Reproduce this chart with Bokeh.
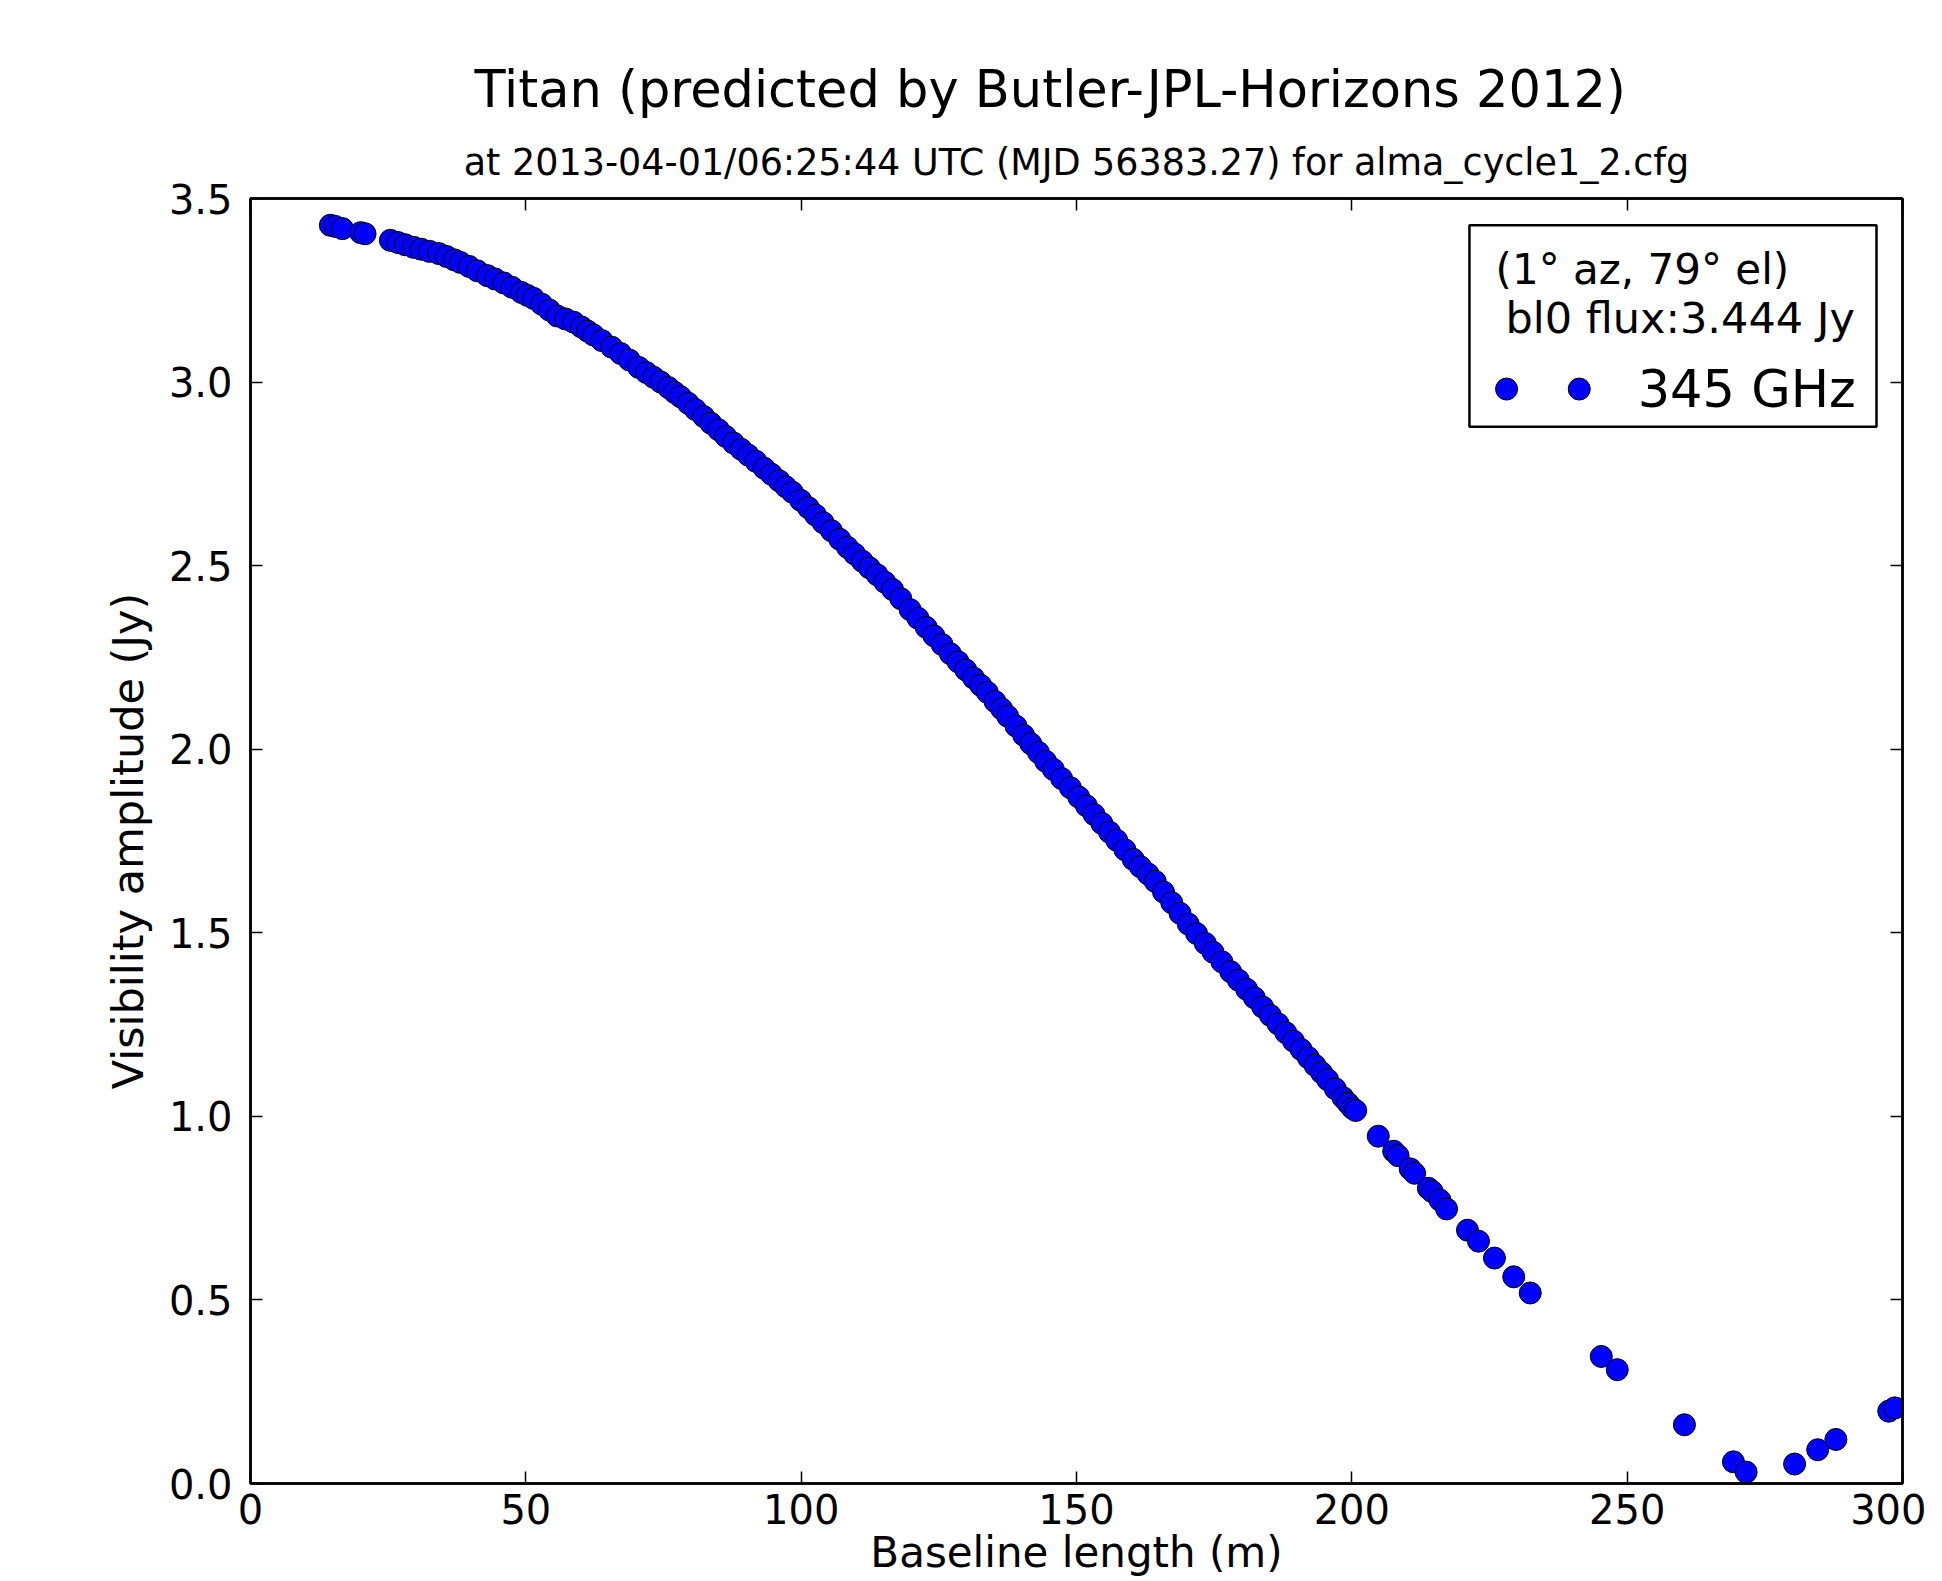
from bokeh.plotting import figure
from bokeh.models import LinearAxis, Title, Label, BoxAnnotation, FixedTicker, Range1d, PrintfTickFormatter
from bokeh.embed import file_html
from bokeh.resources import INLINE

# ---------------- data ----------------
baseline_m = [
    14.5, 15.4, 16.7, 20.0, 20.8,
    25.4, 26.8, 28.1, 29.6, 31.0, 32.5, 34.2, 35.6, 37.0, 38.1, 39.7, 41.2, 43.0, 44.4, 46.0,
    47.5, 49.2, 50.3, 51.4, 52.9, 54.3, 55.7, 57.2, 58.7, 60.1, 61.2, 62.3, 63.8, 65.6, 67.2,
    68.8, 70.5, 71.9, 73.2, 74.5, 75.9, 77.0, 78.1, 79.5, 80.8, 82.3, 83.6, 85.0, 86.3, 87.7,
    89.1, 90.4, 91.8, 93.3, 94.6, 96.0, 97.2, 98.4, 99.9, 101.3, 102.6, 104.0, 105.5, 107.0,
    108.4, 109.7, 111.1, 112.4, 113.8, 115.2, 116.6, 118.1, 119.8, 121.2, 122.7, 124.1, 125.6,
    127.1, 128.5, 129.9, 131.3, 132.6, 133.8, 135.2, 136.4, 137.5, 139.0, 140.4, 141.7, 143.1,
    144.4, 145.8, 147.3, 148.9, 150.4, 151.8, 153.2, 154.6, 156.0, 157.3, 158.8, 160.3, 161.6,
    163.0, 164.3, 165.8, 167.3, 168.8, 170.3, 171.8, 173.4, 174.8, 176.4, 178.0, 179.4, 180.9,
    182.3, 183.8, 185.2, 186.6, 188.0, 189.4, 190.8, 192.1, 193.3, 194.5, 195.6, 197.0, 198.4,
    199.3, 200.1, 200.7,
    204.8, 207.6, 208.4, 210.6, 211.4, 213.9, 214.6, 216.0, 217.2, 221.0, 223.0, 225.9, 229.4,
    232.4, 245.3, 248.2, 260.4, 269.3, 271.6, 280.4, 284.6, 287.9, 297.5, 298.6,
]
amplitude_jy = [
    3.427, 3.424, 3.418, 3.407, 3.404,
    3.386, 3.380, 3.374, 3.367, 3.362, 3.356, 3.350, 3.342, 3.333, 3.326, 3.315, 3.303, 3.290, 3.281, 3.270,
    3.258, 3.244, 3.236, 3.228, 3.212, 3.196, 3.180, 3.172, 3.163, 3.150, 3.139, 3.128, 3.113, 3.095, 3.078,
    3.060, 3.040, 3.026, 3.013, 3.000, 2.985, 2.972, 2.960, 2.942, 2.925, 2.906, 2.888, 2.870, 2.852, 2.834,
    2.817, 2.801, 2.784, 2.765, 2.749, 2.731, 2.715, 2.700, 2.678, 2.658, 2.638, 2.617, 2.595, 2.572,
    2.550, 2.532, 2.512, 2.494, 2.475, 2.455, 2.435, 2.410, 2.380, 2.357, 2.332, 2.309, 2.285,
    2.260, 2.238, 2.216, 2.194, 2.174, 2.155, 2.130, 2.110, 2.090, 2.063, 2.038, 2.015, 1.991,
    1.967, 1.945, 1.920, 1.895, 1.870, 1.846, 1.822, 1.798, 1.774, 1.752, 1.726, 1.700, 1.680,
    1.660, 1.640, 1.611, 1.582, 1.553, 1.524, 1.498, 1.471, 1.447, 1.421, 1.394, 1.371, 1.346,
    1.323, 1.298, 1.275, 1.252, 1.228, 1.205, 1.182, 1.160, 1.139, 1.119, 1.100, 1.075, 1.051,
    1.036, 1.022, 1.016,
    0.946, 0.905, 0.893, 0.857, 0.845, 0.804, 0.795, 0.772, 0.748, 0.690, 0.660, 0.614, 0.563,
    0.519, 0.346, 0.310, 0.160, 0.059, 0.031, 0.053, 0.092, 0.120, 0.197, 0.206,
]
x_ticks = [0, 50, 100, 150, 200, 250, 300]
y_ticks = [0.0, 0.5, 1.0, 1.5, 2.0, 2.5, 3.0, 3.5]
title_text = "Titan (predicted by Butler-JPL-Horizons 2012)"
subtitle_text = "at 2013-04-01/06:25:44 UTC (MJD 56383.27) for alma_cycle1_2.cfg"
x_label = "Baseline length (m)"
y_label = "Visibility amplitude (Jy)"
legend_lines = ["(1°  az, 79°  el)", "bl0 flux:3.444 Jy"]
series_label = "345 GHz"

# ---------------- style ----------------
FONT = "DejaVu Sans"
BLUE = "#0000ff"

p = figure(width=1926, height=1579,
           x_range=Range1d(0, 300), y_range=Range1d(0, 3.5),
           output_backend="svg", toolbar_location=None, title=None,
           min_border_left=250, min_border_right=24,
           min_border_top=198, min_border_bottom=93)
p.xgrid.visible = False
p.ygrid.visible = False
p.outline_line_color = "black"
p.outline_line_width = 2.5
p.background_fill_color = "white"
p.border_fill_color = "white"

p.add_layout(LinearAxis(), "right")
p.add_layout(LinearAxis(), "above")

for ax in p.xaxis + p.yaxis:
    ax.axis_line_color = "black"
    ax.axis_line_width = 2.5
    ax.major_tick_in = 12
    ax.major_tick_out = 0
    ax.major_tick_line_width = 1.5
    ax.major_tick_line_color = "black"
    ax.minor_tick_in = 0
    ax.minor_tick_out = 0
    ax.major_label_text_font = FONT
    ax.major_label_text_color = "black"
    ax.axis_label_text_font = FONT
    ax.axis_label_text_font_style = "normal"
    ax.axis_label_text_color = "black"

for ax in p.xaxis:
    ax.ticker = FixedTicker(ticks=x_ticks)
for ax in p.yaxis:
    ax.ticker = FixedTicker(ticks=y_ticks)
    ax.formatter = PrintfTickFormatter(format="%.1f")

# visible axes
xb = p.below[0]
xb.major_label_text_font_size = "40px"
xb.major_label_standoff = 10
xb.axis_label = x_label
xb.axis_label_text_font_size = "42px"
xb.axis_label_standoff = 1

yl = p.left[0]
yl.major_label_text_font_size = "40px"
yl.major_label_standoff = 18
yl.axis_label = y_label
yl.axis_label_text_font_size = "43px"
yl.axis_label_standoff = 13

# mirror axes: ticks only, no labels drawn
for ax in (p.right[0], p.above[0]):
    ax.major_label_text_font_size = "1px"
    ax.major_label_text_color = None
    ax.major_label_standoff = 0
    ax.axis_label = None

# titles
p.add_layout(Title(text=subtitle_text, align="center", text_font=FONT,
                   text_font_size="36.5px", text_font_style="normal",
                   text_color="black", standoff=30), "above")
p.add_layout(Title(text=title_text, align="left", offset=224, text_font=FONT,
                   text_font_size="51px", text_font_style="normal",
                   text_color="black", standoff=10), "above")

# data
p.scatter(baseline_m, amplitude_jy, size=22, fill_color=BLUE,
          line_color="black", line_width=1)

# legend (drawn by hand, matplotlib style with two sample points)
legend_box = dict(left=221.36, right=295.28, bottom=2.878, top=3.427)
p.add_layout(BoxAnnotation(**legend_box, fill_color="white", fill_alpha=1.0,
                           line_color="black", line_width=2.5, line_alpha=1.0,
                           level="annotation"))
legend_text_pos = [(226.1, 3.307), (227.9, 3.174)]
legend_text_size = ["42px", "43px"]
for (lx, ly), txt, fs in zip(legend_text_pos, legend_lines, legend_text_size):
    p.add_layout(Label(x=lx, y=ly, text=txt, text_font=FONT, text_font_size=fs,
                       text_baseline="middle", text_align="left", text_color="black",
                       level="overlay"))
legend_marker_x = [228.1, 241.3]
legend_marker_y = [2.981, 2.981]
p.scatter(legend_marker_x, legend_marker_y, size=22, fill_color=BLUE,
          line_color="black", line_width=1, level="overlay")
p.add_layout(Label(x=251.9, y=2.981, text=series_label, text_font=FONT,
                   text_font_size="51px", text_baseline="middle", text_align="left",
                   text_color="black", level="overlay"))

open("out.html", "w").write(file_html(p, INLINE))
